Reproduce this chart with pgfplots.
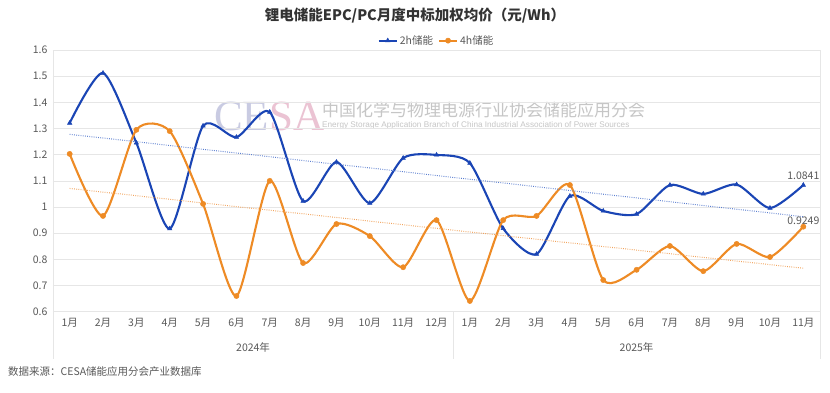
\documentclass[border=0pt]{standalone}
\usepackage{pgfplots}
\pgfplotsset{compat=1.18}
\usepackage{fontspec}
\setmainfont{Noto Sans CJK SC}
\newfontfamily\latinserif{Liberation Serif}
\newfontfamily\latinsans{Liberation Sans}
\definecolor{cblue}{HTML}{1A45B5}
\definecolor{corange}{HTML}{EE8B25}
\definecolor{tblue}{HTML}{5B7FD0}
\definecolor{torange}{HTML}{F2A35C}
\definecolor{txtgray}{HTML}{595959}
\definecolor{gridgray}{HTML}{E6E6E6}
\definecolor{wmlav}{HTML}{C9CBE2}
\definecolor{wmpink}{HTML}{EBC3D3}
\begin{document}
\begin{tikzpicture}
\useasboundingbox (0pt,0pt) rectangle (830pt,392pt);
\fill[white] (0pt,0pt) rectangle (830pt,392pt);
% watermark
\node[anchor=west, inner sep=0, text=wmlav, font=\fontsize{43}{43}\latinserif\selectfont] at (214pt,276pt) {CE\textcolor{wmpink}{SA}};
\node[anchor=west, inner sep=0, text=gray!45, font=\fontsize{17}{17}\selectfont] at (322pt,282pt) {中国化学与物理电源行业协会储能应用分会};
\node[anchor=west, inner sep=0, text=gray!45, font=\fontsize{8.2}{9}\latinsans\selectfont] at (322pt,267pt) {Energy Storage Application Branch of China Industrial Association of Power Sources};
\begin{axis}[
  at={(53pt,80.3pt)}, anchor=south west, scale only axis,
  width=767pt, height=261.7pt,
  xmin=-0.5, xmax=22.5, ymin=0.6, ymax=1.6,
  ytick={0.6,0.7,0.8,0.9,1.0,1.1,1.2,1.3,1.4,1.5,1.6},
  yticklabels={0.6,0.7,0.8,0.9,1,1.1,1.2,1.3,1.4,1.5,1.6},
  xtick={0,...,22},
  xticklabels={1月,2月,3月,4月,5月,6月,7月,8月,9月,10月,11月,12月,1月,2月,3月,4月,5月,6月,7月,8月,9月,10月,11月},
  major tick length=0pt,
  ymajorgrids, grid style={gridgray, line width=0.6pt},
  axis line style={draw=gridgray, line width=0.8pt},
  tick label style={text=txtgray, font=\fontsize{10.5}{12}\selectfont},
  yticklabel style={xshift=-2pt},
  xticklabel style={yshift=-3pt},
  clip=false,
  legend style={at={(0.5,1.0)}, anchor=south, yshift=0pt, draw=none, fill=none,
    legend columns=2, font=\fontsize{10.5}{12}\selectfont, text=txtgray,
    /tikz/every even column/.append style={column sep=3pt}},
  legend image code/.code={\draw[#1] (0pt,0pt) -- (18pt,0pt); \draw[#1, mark repeat=2, mark phase=2] plot coordinates {(0pt,0pt) (9pt,0pt) (18pt,0pt)};},
]
\addplot[cblue, line width=2.1pt, smooth, tension=0.42, mark=triangle*, mark size=2.5pt, mark options={line width=0.5pt}] coordinates {
(0,1.321) (1,1.512) (2,1.245) (3,0.917) (4,1.310) (5,1.267) (6,1.363) (7,1.023) (8,1.172) (9,1.015) (10,1.187) (11,1.199)
(12,1.168) (13,0.918) (14,0.820) (15,1.042) (16,0.985) (17,0.973) (18,1.084) (19,1.050) (20,1.086) (21,0.996) (22,1.0841)};
\addlegendentry{2h储能}
\addplot[corange, line width=2.1pt, smooth, tension=0.42, mark=*, mark size=2.6pt, mark options={line width=0.5pt}] coordinates {
(0,1.203) (1,0.966) (2,1.295) (3,1.290) (4,1.012) (5,0.660) (6,1.100) (7,0.786) (8,0.935) (9,0.889) (10,0.770) (11,0.950)
(12,0.641) (13,0.950) (14,0.966) (15,1.084) (16,0.721) (17,0.760) (18,0.851) (19,0.755) (20,0.859) (21,0.809) (22,0.9249)};
\addlegendentry{4h储能}
\addplot[tblue, line width=1pt, dash pattern=on 0.8pt off 1.4pt, forget plot] coordinates {(0,1.278) (22,0.963)};
\addplot[torange, line width=1pt, dash pattern=on 0.8pt off 1.4pt, forget plot] coordinates {(0,1.071) (22,0.766)};
\node[above, text=txtgray, font=\fontsize{10.5}{12}\selectfont, inner sep=2pt, yshift=3pt] at (axis cs:22,1.0841) {1.0841};
\node[above, text=txtgray, font=\fontsize{10.5}{12}\selectfont, inner sep=2pt, yshift=0pt] at (axis cs:22,0.9249) {0.9249};
\draw[gridgray, line width=0.8pt] (axis cs:-0.5,0.6) -- ++(0pt,-47pt);
\draw[gridgray, line width=0.8pt] (axis cs:11.5,0.6) -- ++(0pt,-47pt);
\draw[gridgray, line width=0.8pt] (axis cs:22.5,0.6) -- ++(0pt,-47pt);
\node[text=txtgray, font=\fontsize{10.5}{12}\selectfont] at (axis cs:5.5,0.6) [yshift=-36pt] {2024年};
\node[text=txtgray, font=\fontsize{10.5}{12}\selectfont] at (axis cs:17,0.6) [yshift=-36pt] {2025年};
\end{axis}
\node[font=\bfseries\fontsize{14.5}{16}\selectfont, text=black!80] at (415pt,376pt) {锂电储能EPC/PC月度中标加权均价（元/Wh）};
\node[anchor=west, inner sep=0, text=txtgray, font=\fontsize{10.5}{12}\selectfont] at (8pt,20pt) {数据来源：CESA储能应用分会产业数据库};
\end{tikzpicture}
\end{document}
